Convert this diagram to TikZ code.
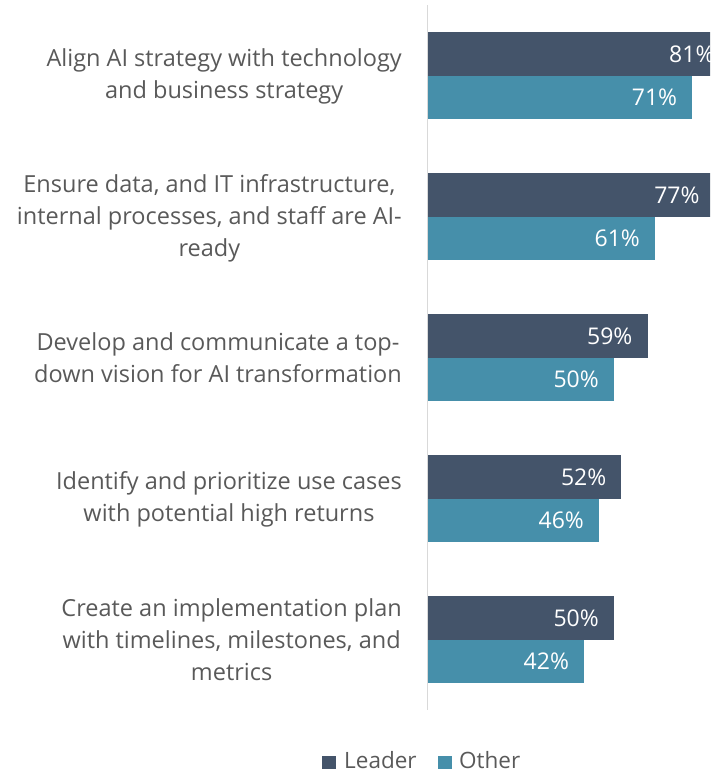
\documentclass[tikz,border=0pt]{standalone}
\usepackage{fontspec}
\setmainfont{Open Sans}
\definecolor{leadc}{HTML}{44546A}
\definecolor{othc}{HTML}{468FAA}
\definecolor{txtc}{HTML}{595959}
\definecolor{axc}{HTML}{D9D9D9}
\begin{document}
\begin{tikzpicture}[x=1pt,y=-1pt,
  cat/.style={anchor=east,align=center,text=txtc,font=\fontsize{23.5}{32}\selectfont,inner sep=0pt},
  val/.style={anchor=east,text=white,font=\fontsize{23}{26}\selectfont,inner sep=0pt},
  legtxt/.style={anchor=base west,text=txtc,font=\fontsize{22.5}{26}\selectfont,inner sep=0pt}]
\useasboundingbox (0,0) rectangle (710,774);
\begin{scope}
\clip (0,0) rectangle (710,774);
\def\xz{427.5}
\def\sc{3.73}
\foreach \i/\cy/\lv/\ov in {1/75.5/81/71,2/216.5/77/61,3/357.5/59/50,4/498.5/52/46,5/639.5/50/42}{
  \fill[leadc] (\xz,\cy-43.5) rectangle ({\xz+\lv*\sc},\cy) coordinate (l\i);
  \fill[othc] (\xz,\cy) rectangle ({\xz+\ov*\sc},\cy+43.5) coordinate (o\i);
  \node[val] (lv\i) at ({\xz+\lv*\sc-15},\cy-21.5) {\lv\%};
  \node[val] (ov\i) at ({\xz+\ov*\sc-15},\cy+21.5) {\ov\%};
}
\end{scope}
\draw[axc,line width=1.5pt] (427.5,5) coordinate (axtop) -- (427.5,710) coordinate (axbot);
\node[cat] (c1) at (402,76) {Align AI strategy with technology\\and business strategy};
\node[cat] (c2) at (402,218) {Ensure data, and IT infrastructure,\\internal processes, and staff are AI-\\ready};
\node[cat] (c3) at (402,358) {Develop and communicate a top-\\down vision for AI transformation};
\node[cat] (c4) at (402,499) {Identify and prioritize use cases\\with potential high returns};
\node[cat] (c5) at (402,640) {Create an implementation plan\\with timelines, milestones, and\\metrics};
\fill[leadc] (322,755.5) rectangle (336,769) coordinate (lk1);
\node[legtxt] (lt1) at (344,768.5) {Leader};
\fill[othc] (438,755.5) rectangle (452,769) coordinate (lk2);
\node[legtxt] (lt2) at (459,768.5) {Other};
\end{tikzpicture}
\end{document}
